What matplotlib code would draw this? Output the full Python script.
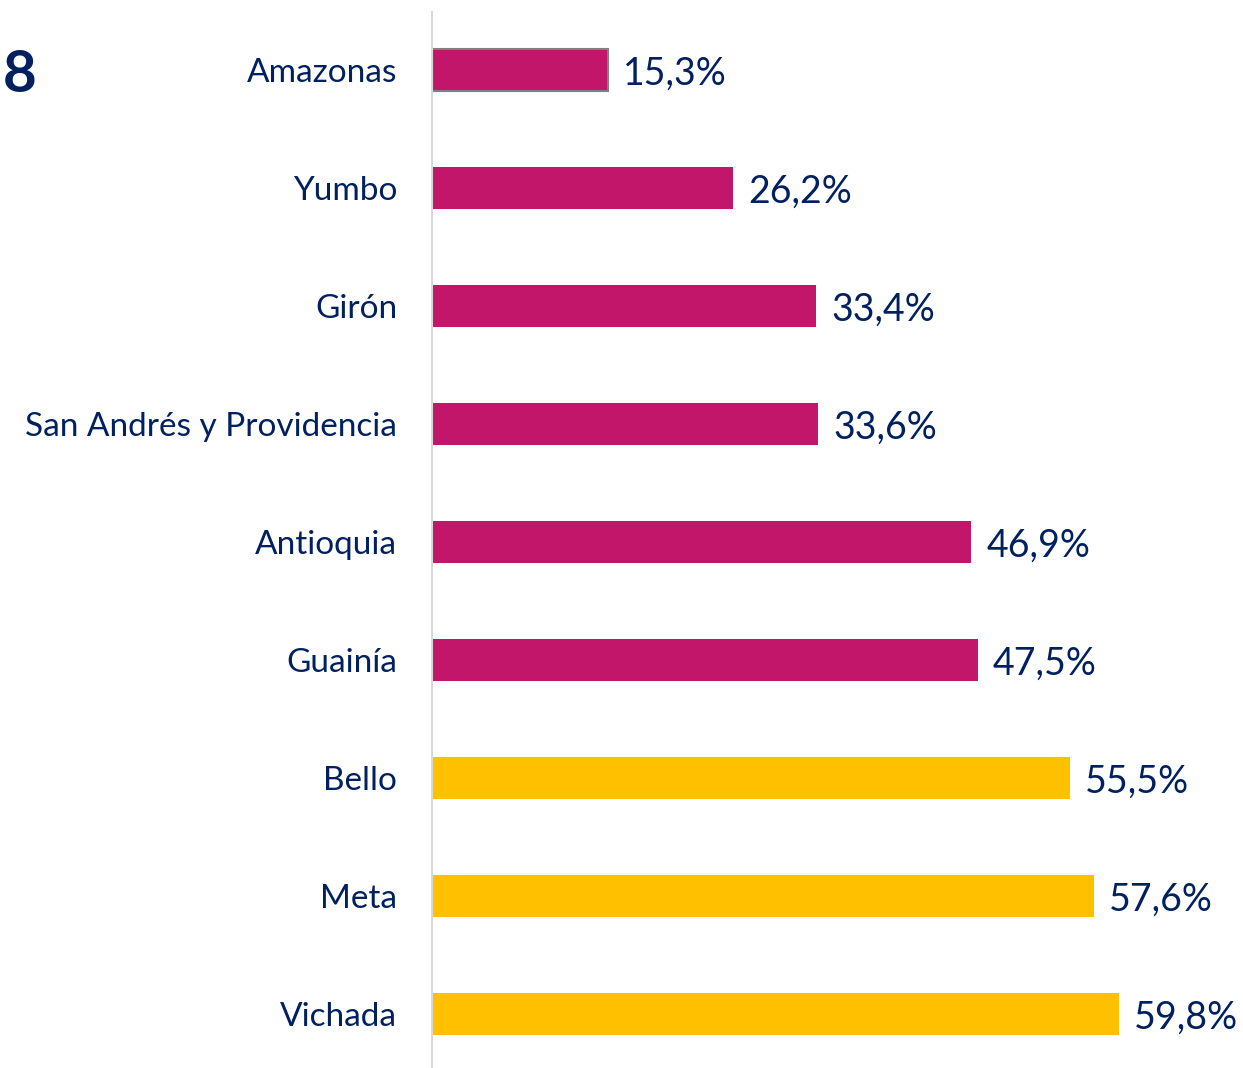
import matplotlib.pyplot as plt

plt.rcParams['font.family'] = ['Lato', 'DejaVu Sans']

# data
regiones = ['Amazonas', 'Yumbo', 'Girón', 'San Andrés y Providencia', 'Antioquia',
            'Guainía', 'Bello', 'Meta', 'Vichada']
valores = [15.3, 26.2, 33.4, 33.6, 46.9, 47.5, 55.5, 57.6, 59.8]
etiquetas = ['15,3%', '26,2%', '33,4%', '33,6%', '46,9%', '47,5%', '55,5%', '57,6%', '59,8%']
grupo = ['bajo', 'bajo', 'bajo', 'bajo', 'bajo', 'bajo', 'alto', 'alto', 'alto']

colores = {'bajo': '#C2166A', 'alto': '#FFC000'}
navy = '#002060'

W, H = 1243, 1068
fig = plt.figure(figsize=(W / 100, H / 100), dpi=100)
ax = fig.add_axes([432 / W, 0, (W - 432) / W, (H - 12) / H])

y = list(range(len(regiones)))
bars = ax.barh(y, valores, height=0.355, color=[colores[g] for g in grupo])
# first bar has a thin grey outline in the original
bars[0].set_edgecolor('#808080')
bars[0].set_linewidth(1.5)

for b, lab in zip(bars, etiquetas):
    ax.annotate(lab, (b.get_width(), b.get_y() + b.get_height() / 2),
                xytext=(11, -3), textcoords='offset points',
                ha='left', va='center', fontsize=27, color=navy)

ax.set_xlim(0, (W - 432) / 11.49)
ax.set_ylim(8.46, -0.49)
ax.set_yticks(y)
ax.set_yticklabels(regiones, fontsize=24, color=navy)
ax.tick_params(axis='y', length=0, pad=25)
ax.set_xticks([])
for s in ['top', 'right', 'bottom']:
    ax.spines[s].set_visible(False)
ax.spines['left'].set_color('#D9D9D9')
ax.spines['left'].set_linewidth(1.5)

# title fragment at the left edge
fig.text(3 / W, 1 - 76 / H, '8', ha='left', va='center', fontsize=42,
         fontweight='bold', color=navy)

fig.savefig('out.png', dpi=100)
